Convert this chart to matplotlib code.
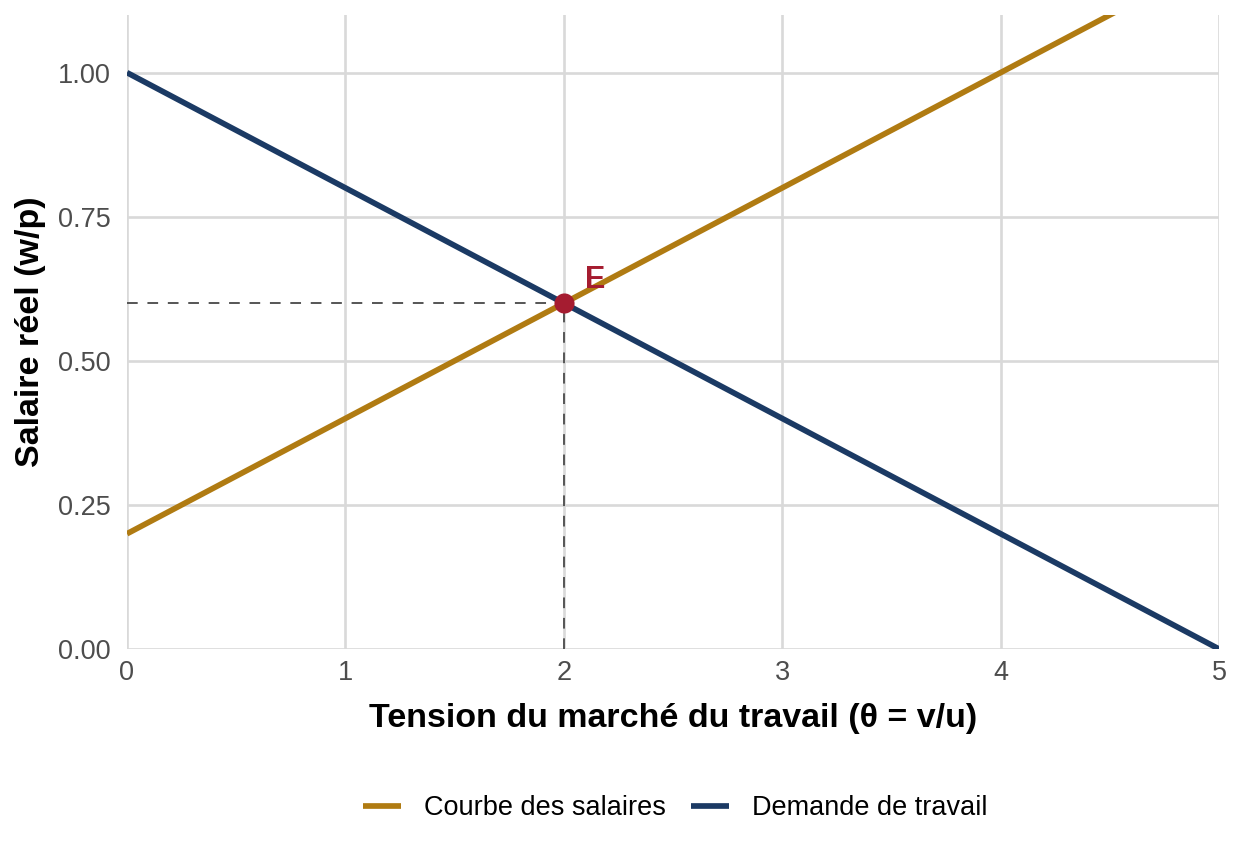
import matplotlib
matplotlib.use("Agg")
import matplotlib.pyplot as plt
import numpy as np

plt.rcParams['font.family'] = ['Liberation Sans', 'DejaVu Sans']

theta = [0, 1, 2, 3, 4, 5]
wage_curve = [0.2, 0.4, 0.6, 0.8, 1.0, 1.2]
labor_demand = [1.0, 0.8, 0.6, 0.4, 0.2, 0.0]
eq_theta = 2.0
eq_wage = 0.6
series_names = ["Courbe des salaires", "Demande de travail"]
x_ticks = [0, 1, 2, 3, 4, 5]
y_ticks = [0.00, 0.25, 0.50, 0.75, 1.00]

gold = "#B07B12"
navy = "#1B3A64"
red = "#A51C30"

fig = plt.figure(figsize=(12.48, 8.64), dpi=100)
ax = fig.add_axes([127/1248, 1 - 649/864, (1219-127)/1248, (649-15)/864])

ax.plot(theta, wage_curve, color=gold, lw=4.1, label=series_names[0], solid_capstyle='butt', zorder=3)
ax.plot(theta, labor_demand, color=navy, lw=4.1, label=series_names[1], solid_capstyle='butt', zorder=3)

ax.plot([0, eq_theta], [eq_wage, eq_wage], color="#555555", lw=1.4, ls=(0, (5.5, 5)), zorder=2)
ax.plot([eq_theta, eq_theta], [0, eq_wage], color="#555555", lw=1.4, ls=(0, (5.5, 5)), zorder=2)
ax.scatter([eq_theta], [eq_wage], s=210, color=red, linewidths=0, zorder=5)
ax.text(eq_theta + 0.095, eq_wage + 0.027, "E", color=red, fontsize=22, fontweight='bold', ha='left', va='baseline', zorder=6)

ax.set_xlim(0, 5)
ax.set_ylim(0, 1.1)
ax.set_xticks(x_ticks)
ax.set_yticks(y_ticks)
ax.set_xticklabels([str(v) for v in x_ticks])
ax.set_yticklabels([f"{v:.2f}" for v in y_ticks])
ax.grid(True, color="#D9D9D9", lw=1.9, zorder=0)
ax.set_axisbelow(True)
for s in ax.spines.values():
    s.set_visible(False)
ax.tick_params(length=0, labelsize=19.5, labelcolor="#4D4D4D")
ax.tick_params(axis='y', pad=12)
ax.tick_params(axis='x', pad=8)
ax.set_xlabel("Tension du marché du travail (θ = v/u)", fontsize=24.5, fontweight='bold', labelpad=12)
ax.set_ylabel("Salaire réel (w/p)", fontsize=24.5, fontweight='bold', labelpad=8)

leg = fig.legend(loc='center', bbox_to_anchor=(0.5413, 1 - 808/864), ncol=2, frameon=False,
                 fontsize=19.5, handlelength=1.4, columnspacing=0.93, handletextpad=0.85)

fig.savefig("out.png", dpi=100, facecolor="white")
